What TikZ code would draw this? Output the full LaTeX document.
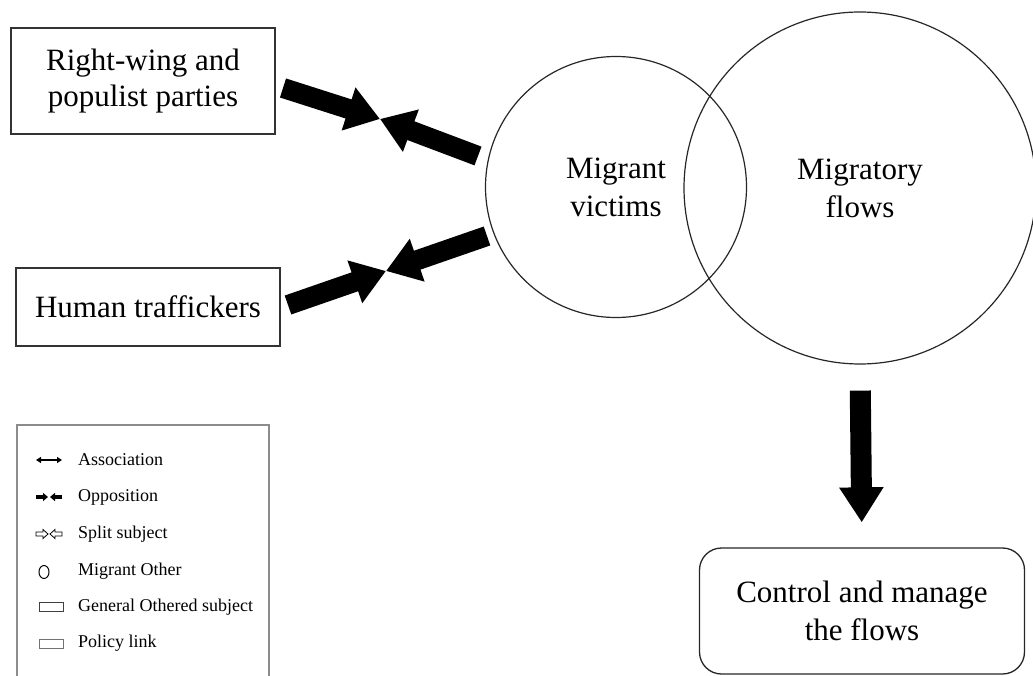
\documentclass[tikz,border=0pt]{standalone}
\usepackage{fontspec}
\setmainfont{Liberation Serif}
\usetikzlibrary{arrows.meta,shapes.geometric}
\begin{document}
\begin{tikzpicture}[x=1pt,y=-1pt,
  actorbox/.style={draw=black!80,line width=1.4pt,align=center,font=\fontsize{31}{36}\selectfont,inner sep=0pt},
  othercircle/.style={circle,draw=black!85,line width=1.2pt,align=center,font=\fontsize{31}{38}\selectfont,inner sep=0pt},
  fatarrow/.style={line width=20pt,-{Triangle[length=33pt,width=43pt]}},
  legtext/.style={anchor=west,font=\fontsize{18}{20}\selectfont,inner sep=0pt},
  legbox/.style={draw=black!75,line width=0.9pt}
]
\useasboundingbox (0,0) rectangle (1033,676);

% actors
\node[actorbox,minimum width=264pt,minimum height=106pt] (rw) at (143,81) {Right-wing and\\populist parties};
\node[actorbox,minimum width=264pt,minimum height=78pt] (ht) at (148,307) {Human traffickers};

% migrant figures
\node[othercircle,minimum size=261pt] (mv) at (616,187) {Migrant\\victims};
\node[othercircle,minimum size=352pt] (mf) at (860,188) {Migratory\\flows};

% policy link
\node[draw=black!85,line width=1.3pt,rounded corners=22pt,minimum width=325pt,minimum height=126pt,
  align=center,font=\fontsize{31}{38}\selectfont] (cm) at (862,611) {Control and manage\\the flows};

% opposition arrows
\coordinate (t1a) at (283,88);
\coordinate (t1b) at (478,156);
\coordinate (m1) at (380,119);
\coordinate (t2a) at (288,305);
\coordinate (t2b) at (487,236);
\coordinate (m2) at (386,271);
\draw[fatarrow] (t1a) -- (m1);
\draw[fatarrow] (t1b) -- (m1);
\draw[fatarrow] (t2a) -- (m2);
\draw[fatarrow] (t2b) -- (m2);

% flows to policy
\draw[line width=21pt,-{Triangle[length=35pt,width=42pt]},shorten <=26pt,shorten >=25pt] (mf.south) -- (cm.north);

% legend
\draw[draw=black!45,line width=1.2pt] (17,680) -- (17,425) -- (269,425) -- (269,680);
\coordinate (l1) at (49,460);
\coordinate (l2) at (49,497);
\coordinate (l3) at (49,534);
\coordinate (l4) at (44,572);
\coordinate (l5) at (51,607);
\coordinate (l6) at (51,644);
\draw[line width=2pt,{Triangle[length=5pt,width=6pt]}-{Triangle[length=5pt,width=6pt]}] ([xshift=-13pt]l1) -- ([xshift=13pt]l1);
\draw[line width=4.5pt,-{Triangle[length=5pt,width=8pt]}] ([xshift=-13pt]l2) -- ([xshift=-1pt]l2);
\draw[line width=4.5pt,-{Triangle[length=5pt,width=8pt]}] ([xshift=13pt]l2) -- ([xshift=1pt]l2);
\draw[line width=0.8pt] ([xshift=-13pt,yshift=-2pt]l3) -- ([xshift=-6pt,yshift=-2pt]l3) -- ([xshift=-6pt,yshift=-4.5pt]l3)
  -- ([xshift=-1pt]l3) -- ([xshift=-6pt,yshift=4.5pt]l3) -- ([xshift=-6pt,yshift=2pt]l3) -- ([xshift=-13pt,yshift=2pt]l3) -- cycle;
\draw[line width=0.8pt] ([xshift=13pt,yshift=-2pt]l3) -- ([xshift=6pt,yshift=-2pt]l3) -- ([xshift=6pt,yshift=-4.5pt]l3)
  -- ([xshift=1pt]l3) -- ([xshift=6pt,yshift=4.5pt]l3) -- ([xshift=6pt,yshift=2pt]l3) -- ([xshift=13pt,yshift=2pt]l3) -- cycle;
\draw[line width=1pt] (l4) ellipse [x radius=5pt,y radius=6.5pt];
\draw[legbox] ([xshift=-12pt,yshift=-4.5pt]l5) rectangle ([xshift=12pt,yshift=4.5pt]l5);
\draw[legbox,draw=black!55] ([xshift=-12pt,yshift=-4.5pt]l6) rectangle ([xshift=12pt,yshift=4.5pt]l6);
\node[legtext] (a1) at (78,460) {Association};
\node[legtext] (a2) at (78,497) {Opposition};
\node[legtext] (a3) at (78,534) {Split subject};
\node[legtext] (a4) at (78,571) {Migrant Other};
\node[legtext] (a5) at (78,607) {General Othered subject};
\node[legtext] (a6) at (78,643) {Policy link};
\end{tikzpicture}
\end{document}
